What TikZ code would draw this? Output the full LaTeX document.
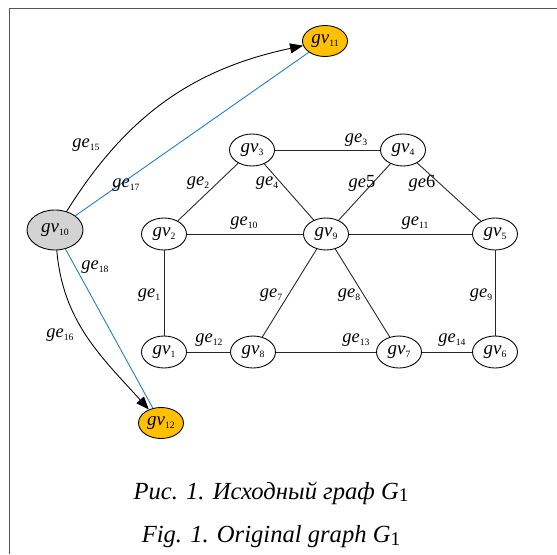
\documentclass[tikz,border=0pt]{standalone}
\usepackage{fontspec}
\setmainfont{Liberation Serif}
\usepackage{xcolor}
\usetikzlibrary{shapes.geometric,arrows.meta}

\definecolor{gvorange}{RGB}{255,192,0}
\definecolor{gvgray}{RGB}{211,211,211}
\definecolor{geblue}{RGB}{30,125,210}
\definecolor{framegray}{RGB}{85,85,85}

\newcommand\vname[1]{\textit{gv}\raisebox{-0.35ex}{\fontsize{5.5}{6}\selectfont #1}}
\newcommand\ename[1]{\textit{ge}\raisebox{-0.35ex}{\fontsize{5.5}{6}\selectfont #1}}

\begin{document}
\begin{tikzpicture}[
    x=0.02cm, y=-0.02cm,
    vertex/.style={ellipse, draw=black, line width=0.5pt, minimum width=0.90cm, minimum height=0.64cm, inner sep=0pt, font=\fontsize{10.8}{11}\selectfont},
    bigvertex/.style={vertex, fill=gvgray, minimum width=1.12cm, minimum height=0.80cm},
    newvertex/.style={vertex, fill=gvorange, minimum height=0.62cm},
    elabel/.style={inner sep=0pt, font=\fontsize{10.5}{11}\selectfont},
    edge/.style={line width=0.5pt, black!85},
    arrow/.style={line width=0.5pt, -{Triangle[length=2.6mm, width=2mm]}},
    link/.style={line width=0.5pt, geblue},
    caption/.style={inner sep=0pt, font=\fontsize{14}{16}\selectfont\itshape}
]
    \useasboundingbox (0,0) rectangle (557,554);

    % frame (only top and left edges show)
    \draw[framegray, line width=1.1pt] (9.5,554) -- (9.5,8.5) -- (557,8.5);

    % vertices of G1
    \node[vertex] (v3) at (252,150) {\vname{3}};
    \node[vertex] (v4) at (403,150) {\vname{4}};
    \node[vertex] (v2) at (164,234) {\vname{2}};
    \node[vertex] (v9) at (326,234) {\vname{9}};
    \node[vertex] (v5) at (495,234) {\vname{5}};
    \node[vertex] (v1) at (164,352) {\vname{1}};
    \node[vertex] (v8) at (253,352) {\vname{8}};
    \node[vertex] (v7) at (399,352) {\vname{7}};
    \node[vertex] (v6) at (495,352) {\vname{6}};

    % added vertices
    \node[bigvertex] (v10) at (55,230) {\vname{10}};
    \node[newvertex] (v11) at (325,41) {\vname{11}};
    \node[newvertex] (v12) at (161,423) {\vname{12}};

    % edges
    \draw[edge] (v2) -- (v1);
    \draw[edge] (v2) -- (v3);
    \draw[edge] (v3) -- (v4);
    \draw[edge] (v3) -- (v9);
    \draw[edge] (v4) -- (v9);
    \draw[edge] (v4) -- (v5);
    \draw[edge] (v9) -- (v8);
    \draw[edge] (v9) -- (v7);
    \draw[edge] (v5) -- (v6);
    \draw[edge] (v2) -- (v9);
    \draw[edge] (v9) -- (v5);
    \draw[edge] (v1) -- (v8);
    \draw[edge] (v8) -- (v7);
    \draw[edge] (v7) -- (v6);

    % new links
    \draw[arrow] (v10) to[out=58, in=192] (v11);
    \draw[arrow] (v10) to[out=-85, in=132] (v12);
    \draw[link] (v10) -- (v11);
    \draw[link] (v10) -- (v12);

    % edge labels
    \node[elabel] (l1)  at (149,295) {\ename{1}};
    \node[elabel] (l2)  at (198,183) {\ename{2}};
    \node[elabel] (l3)  at (356,140) {\ename{3}};
    \node[elabel] (l4)  at (267,183) {\ename{4}};
    \node[elabel] (l5)  at (362,183) {\textit{ge}5};
    \node[elabel] (l6)  at (422,183) {\textit{ge}6};
    \node[elabel] (l7)  at (271,295) {\ename{7}};
    \node[elabel] (l8)  at (349,295) {\ename{8}};
    \node[elabel] (l9)  at (481,295) {\ename{9}};
    \node[elabel] (l10) at (244,223) {\ename{10}};
    \node[elabel] (l11) at (415,223) {\ename{11}};
    \node[elabel] (l12) at (209,340) {\ename{12}};
    \node[elabel] (l13) at (356,340) {\ename{13}};
    \node[elabel] (l14) at (452,340) {\ename{14}};
    \node[elabel] (l15) at (86,145)  {\ename{15}};
    \node[elabel] (l16) at (60,335)  {\ename{16}};
    \node[elabel] (l17) at (126,185) {\ename{17}};
    \node[elabel] (l18) at (95,267)  {\ename{18}};

    % captions
    \node[caption] (capru) at (271,493) {Рис. 1. Исходный граф \textit{G}{\upshape\fontsize{11}{12}\selectfont\raisebox{-0.3ex}{1}}};
    \node[caption] (capen) at (271,537) {Fig. 1. Original graph \textit{G}{\upshape\fontsize{11}{12}\selectfont\raisebox{-0.3ex}{1}}};
\end{tikzpicture}
\end{document}
